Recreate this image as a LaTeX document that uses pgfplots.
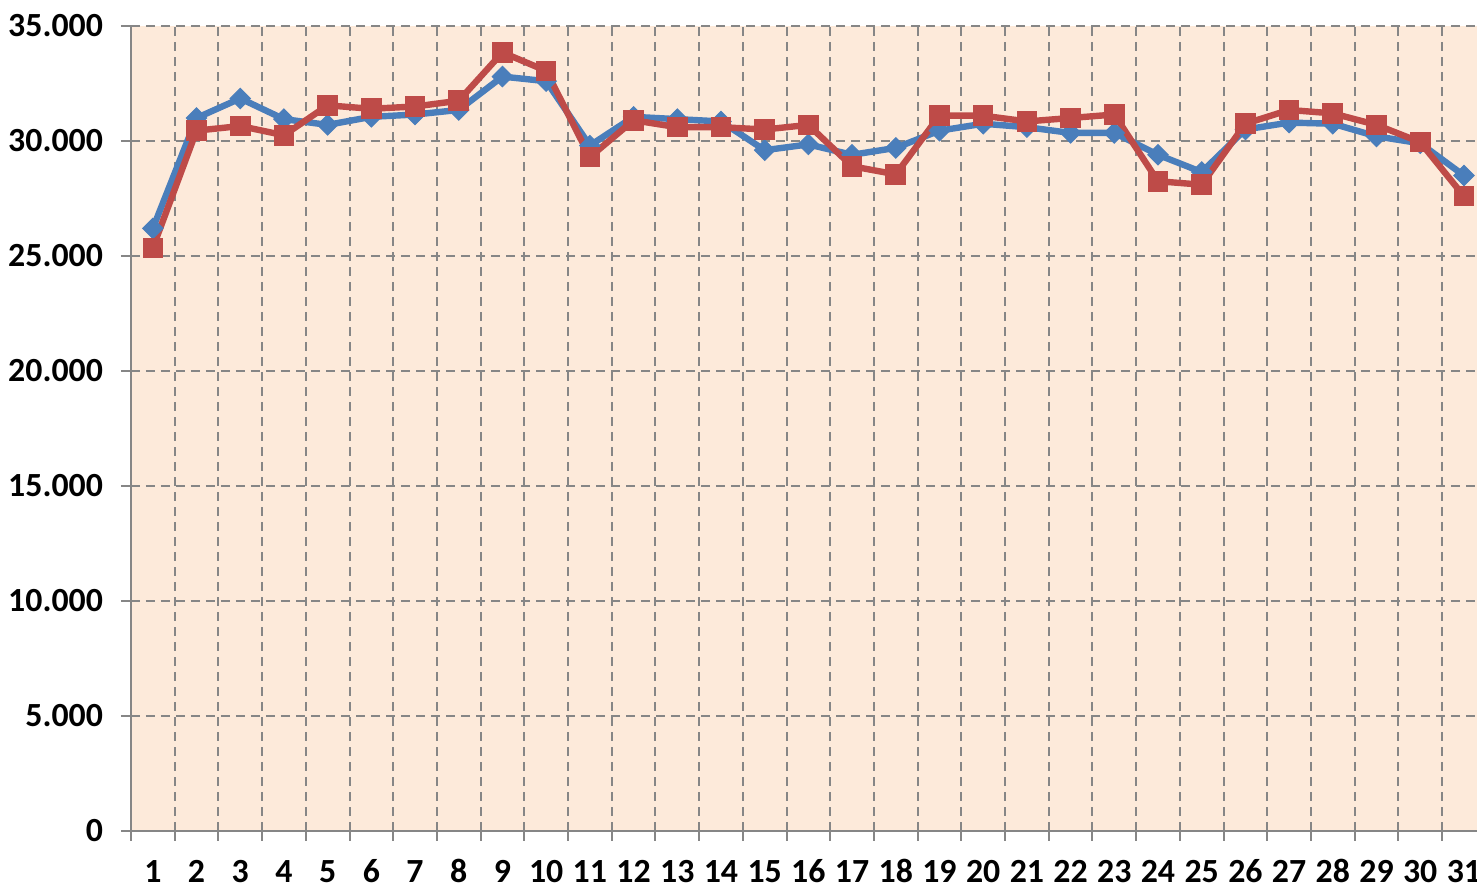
\documentclass[border=0pt]{standalone}
\usepackage{pgfplots}
\pgfplotsset{compat=1.18}
\usepackage{fontspec}
\setmainfont{Carlito}
\definecolor{bgc}{HTML}{FDEADA}
\definecolor{bl}{HTML}{4A7EBB}
\definecolor{rd}{HTML}{BE4B48}
\definecolor{gr}{HTML}{868686}
\begin{document}
\begin{tikzpicture}
\begin{axis}[name=ax, scale only axis, width=673pt, height=402.5pt,
  xmin=0.5, xmax=31.3, ymin=0, ymax=35000,
  scaled y ticks=false,
  axis lines=left, axis line style={-, draw=gr, line width=1.2pt},
  axis background/.style={fill=bgc},
  tick align=outside,
  xtick={1,...,31},
  xticklabels={1,2,3,4,5,6,7,8,9,10,11,12,13,14,15,16,17,18,19,20,21,22,23,24,25,26,27,28,29,30,31},
  major x tick style={draw=none},
  minor xtick={0.5,1.5,...,30.5},
  minor tick length=5pt,
  minor x tick style={draw=gr, line width=1pt},
  xminorgrids=true,
  minor x grid style={draw=gr, line width=1pt, dash pattern=on 4.5pt off 3pt},
  ytick={0,5000,10000,15000,20000,25000,30000,35000},
  yticklabels={0,5.000,10.000,15.000,20.000,25.000,30.000,35.000},
  major tick length=5pt,
  major y tick style={draw=gr, line width=1pt},
  ymajorgrids=true,
  major y grid style={draw=gr, line width=1pt, dash pattern=on 4.5pt off 3pt},
  ticklabel style={font=\bfseries\fontsize{16.9}{20}\selectfont, text=black},
  xticklabel style={anchor=base, yshift=-21pt, inner sep=0pt},
  yticklabel style={xshift=-5.5pt},
  clip=false,
]
\addplot[bl, line width=3.2pt, mark=square*, mark size=3.6pt, mark options={rotate=45, solid, fill=bl, draw=bl, line width=0.5pt}] coordinates {
(1,26200) (2,31000) (3,31850) (4,30950) (5,30700) (6,31050) (7,31150) (8,31350) (9,32800) (10,32600)
(11,29800) (12,31050) (13,30950) (14,30850) (15,29600) (16,29850) (17,29400) (18,29700) (19,30450) (20,30750)
(21,30600) (22,30350) (23,30350) (24,29400) (25,28650) (26,30500) (27,30800) (28,30750) (29,30200) (30,29900) (31,28500)
};
\addplot[rd, line width=3.2pt, mark=square*, mark size=4.9pt, mark options={solid, fill=rd, draw=rd, line width=0.5pt}] coordinates {
(1,25350) (2,30450) (3,30650) (4,30250) (5,31550) (6,31400) (7,31500) (8,31750) (9,33850) (10,33050)
(11,29300) (12,30900) (13,30600) (14,30600) (15,30500) (16,30700) (17,28900) (18,28550) (19,31100) (20,31100)
(21,30850) (22,31000) (23,31150) (24,28250) (25,28100) (26,30750) (27,31350) (28,31200) (29,30700) (30,29950) (31,27600)
};
\end{axis}
\pgfresetboundingbox
\path[use as bounding box] ([xshift=-65.5pt,yshift=-28pt]ax.south west) rectangle ([yshift=13pt]ax.north east);
\end{tikzpicture}
\end{document}
